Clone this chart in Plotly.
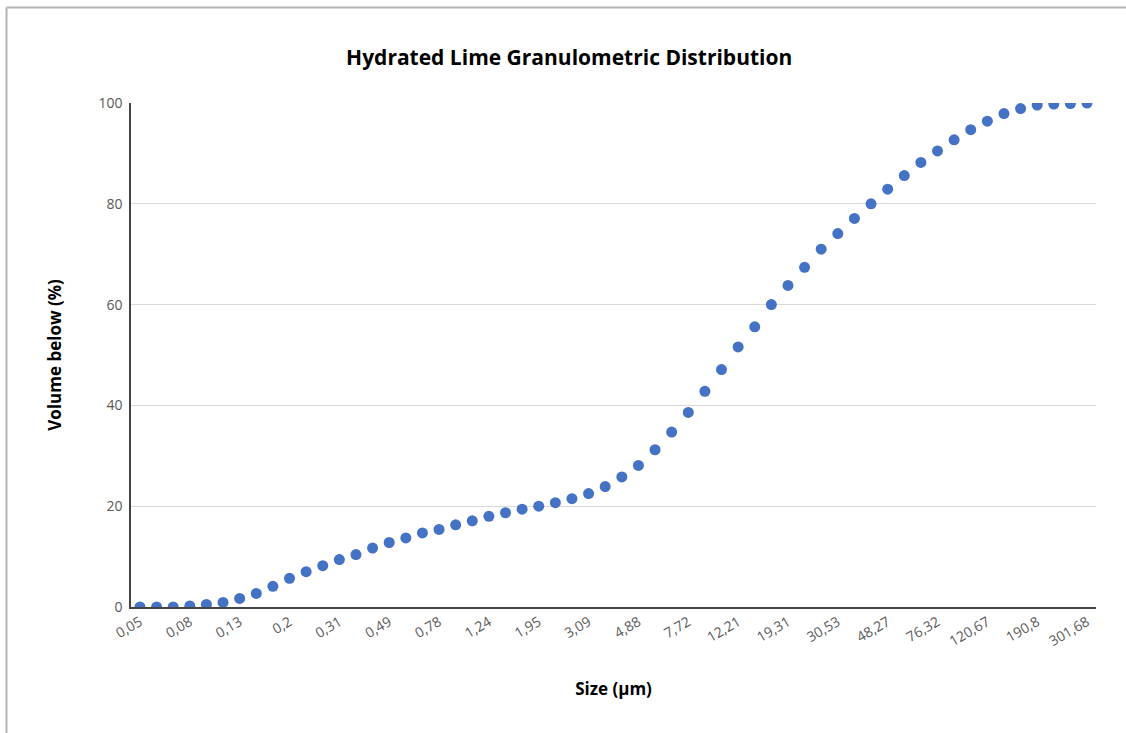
import plotly.graph_objects as go

# Particle size categories (µm), Malvern-style geometric classes
sizes = [
    "0,05", "0,06", "0,07", "0,08", "0,09", "0,11", "0,13", "0,15", "0,17", "0,2",
    "0,23", "0,27", "0,31", "0,36", "0,42", "0,49", "0,58", "0,67", "0,78", "0,91",
    "1,06", "1,24", "1,44", "1,68", "1,95", "2,28", "2,65", "3,09", "3,6", "4,19",
    "4,88", "5,69", "6,63", "7,72", "9", "10,48", "12,21", "14,22", "16,57", "19,31",
    "22,49", "26,2", "30,53", "35,56", "41,43", "48,27", "56,23", "65,51", "76,32", "88,91",
    "103,58", "120,67", "140,58", "163,77", "190,8", "222,28", "258,95", "301,68",
]

# Cumulative volume below (%)
volume_below = [
    0.0, 0.0, 0.0, 0.2, 0.5, 0.9, 1.7, 2.7, 4.1, 5.7,
    7.0, 8.2, 9.4, 10.4, 11.7, 12.8, 13.7, 14.7, 15.4, 16.3,
    17.1, 18.0, 18.7, 19.4, 20.0, 20.7, 21.5, 22.5, 23.9, 25.8,
    28.1, 31.2, 34.7, 38.6, 42.8, 47.1, 51.6, 55.6, 60.0, 63.8,
    67.4, 71.0, 74.1, 77.1, 80.0, 82.9, 85.6, 88.2, 90.5, 92.7,
    94.7, 96.4, 97.9, 98.9, 99.6, 99.8, 99.9, 100.0,
]

tick_labels = sizes[::3]
y_ticks = [0, 20, 40, 60, 80, 100]

fig = go.Figure(
    go.Scatter(
        x=sizes,
        y=volume_below,
        mode="markers",
        marker=dict(color="#4472C4", size=11),
        cliponaxis=True,
        showlegend=False,
    )
)

font_family = "Open Sans, Liberation Sans, sans-serif"

fig.update_layout(
    width=1126,
    height=733,
    margin=dict(l=131, r=30, t=103, b=126),
    paper_bgcolor="white",
    plot_bgcolor="white",
    font=dict(family=font_family, color="#595959", size=14),
    title=dict(
        text="<b>Hydrated Lime Granulometric Distribution</b>",
        x=0.5055,
        xanchor="center",
        y=0.921,
        yanchor="middle",
        font=dict(family=font_family, size=21, color="#000000"),
    ),
    xaxis=dict(
        type="category",
        range=[-0.54, 57.54],
        tickmode="array",
        tickvals=tick_labels,
        ticktext=tick_labels,
        tickangle=-30,
        showgrid=False,
        showline=True,
        linecolor="#444444",
        linewidth=1.5,
        ticks="",
        tickfont=dict(size=14, color="#595959"),
        title=dict(
            text="<b>Size (µm)</b>",
            font=dict(family=font_family, size=17, color="#000000"),
            standoff=34,
        ),
    ),
    yaxis=dict(
        range=[0, 100],
        tickmode="array",
        tickvals=y_ticks,
        showgrid=True,
        gridcolor="#d9d9d9",
        gridwidth=1,
        zeroline=False,
        showline=True,
        linecolor="#444444",
        linewidth=1.5,
        ticks="",
        ticklabelstandoff=4,
        tickfont=dict(size=14, color="#595959"),
        title=dict(
            text="<b>Volume below (%)</b>",
            font=dict(family=font_family, size=17, color="#000000"),
            standoff=32,
        ),
    ),
    shapes=[
        dict(type="line", xref="paper", yref="paper",
             x0=-0.129, x1=1.2, y0=1.1895, y1=1.1895,
             line=dict(color="#b4b4b4", width=2)),
        dict(type="line", xref="paper", yref="paper",
             x0=-0.129, x1=-0.129, y0=1.1895, y1=-0.3,
             line=dict(color="#b4b4b4", width=2)),
    ],
)

fig.write_html("out.html")
